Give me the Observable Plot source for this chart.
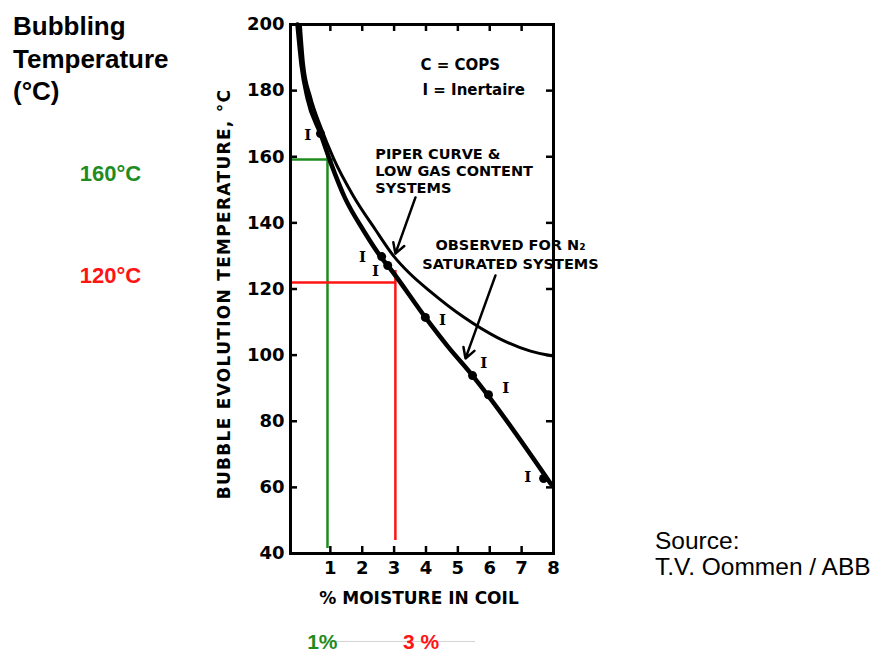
<!DOCTYPE html>
<html><head><meta charset="utf-8">
<script src="https://cdn.jsdelivr.net/npm/d3@7"></script>
<script src="https://cdn.jsdelivr.net/npm/@observablehq/plot@0.6"></script>
<style>
body{margin:0;background:#fff;}
#wrap{position:relative;width:873px;height:652px;overflow:hidden;background:#fff;}
#title{position:absolute;left:13px;top:10px;font:bold 26px "Liberation Sans",Arial,sans-serif;line-height:32.5px;color:#000;}
#source{position:absolute;left:655px;top:528px;font:24.5px "Liberation Sans",Arial,sans-serif;line-height:26px;color:#000;white-space:nowrap;}
#sep{position:absolute;left:330px;top:641px;width:145px;height:1px;background:#d4d4d4;}
#chart{position:absolute;left:0;top:0;}
</style></head><body>
<div id="wrap">
<div id="sep"></div>
<div id="title">Bubbling<br>Temperature<br>(°C)</div>
<div id="source">Source:<br>T.V. Oommen / ABB</div>
<div id="chart"></div>
</div>
<script>
// ---- data ----
const moistTicks = [1, 2, 3, 4, 5, 6, 7, 8];
const tempTicks = [40, 60, 80, 100, 120, 140, 160, 180, 200];
const innerTicksX = [1, 2, 3, 4, 5, 6, 7];
const innerTicksY = [60, 80, 100, 120, 140, 160, 180];

// Piper curve & low gas content systems
const piperX = [0.06, 0.16, 0.38, 0.70, 1.10, 1.73, 2.41, 3.00, 3.50, 4.14, 5.18, 6.24, 7.28, 7.94];
const piperT = [200, 188.0, 178.0, 169.0, 159.5, 148.0, 138.0, 129.8, 124.6, 119.2, 111.5, 105.3, 101.2, 99.8];

// Observed for N2 saturated systems
const obsX = [-0.03, 0.10, 0.29, 0.69, 1.02, 1.45, 2.04, 2.60, 2.85, 3.98, 4.67, 5.46, 5.96, 7.92];
const obsT = [200, 187.6, 177.6, 167.0, 158.0, 147.7, 137.7, 129.5, 126.5, 111.4, 102.8, 93.8, 87.6, 61.0];

// measured points (dots)
const dotX = [0.69, 2.61, 2.80, 3.98, 5.46, 5.96, 7.69];
const dotT = [167.0, 129.8, 127.1, 111.4, 93.8, 88.0, 62.7];

// "I" (Inertaire) markers
const inertX = [0.29, 2.01, 2.42, 4.52, 5.81, 6.50, 7.19];
const inertT = [166.4, 129.5, 125.3, 110.5, 97.5, 89.9, 63.0];

// legend lines
const legendText = ["C = COPS", "I = Inertaire"];
const legendX = [3.83, 3.89];
const legendT = [187.6, 180.0];

// annotations
const piperText = "PIPER CURVE &\nLOW GAS CONTENT\nSYSTEMS";
const piperTextX = 2.41, piperTextT = 155.9;
const obsText = "OBSERVED FOR N\u2082\nSATURATED SYSTEMS";
const obsTextX = 6.65, obsTextT = 130.9;

// leader arrows
const leadX1 = [3.67, 6.18], leadT1 = [147.7, 124.1];
const leadX2 = [3.04, 5.24], leadT2 = [130.7, 99.0];

// reading guides
const greenX = 0.91, greenT = 159.2, greenTop = 161.0, greenXEnd = 1.16;
const redX = 3.04, redT = 122.0, redTop = 125.6, redXEnd = 3.07;
const guideBottomG = 41.5, guideBottomR = 43.9;
const xDomain = [-0.25, 8];

const GREEN = "#1f8c1f", RED = "#ff1414";
const W = 553 - 290, H = 553 - 24;

const piper = piperX.map((x, i) => ({x, t: piperT[i]}));
const obs = obsX.map((x, i) => ({x, t: obsT[i]}));
const dots = dotX.map((x, i) => ({x, t: dotT[i]}));
const inert = inertX.map((x, i) => ({x, t: inertT[i]}));
const legend = legendText.map((s, i) => ({s, x: legendX[i], t: legendT[i]}));
const leads = leadX1.map((x1, i) => ({x1, y1: leadT1[i], x2: leadX2[i], y2: leadT2[i]}));

const FONT = "DejaVu Sans";
const chart = Plot.plot({
  width: 873, height: 652,
  marginLeft: 290, marginRight: 320, marginTop: 24, marginBottom: 99,
  style: {fontFamily: FONT, background: "transparent", color: "#000"},
  x: {domain: xDomain},
  y: {domain: [40, 200]},
  marks: [
    // guide lines
    Plot.ruleY([greenT], {x1: xDomain[0], x2: greenXEnd, stroke: GREEN, strokeWidth: 2.5}),
    Plot.ruleX([greenX], {y1: guideBottomG, y2: greenTop, stroke: GREEN, strokeWidth: 2.5}),
    Plot.ruleY([redT], {x1: xDomain[0], x2: redXEnd, stroke: RED, strokeWidth: 2.5}),
    Plot.ruleX([redX], {y1: guideBottomR, y2: redTop, stroke: RED, strokeWidth: 2.5}),
    // inward ticks
    Plot.ruleX(innerTicksX, {x: d => d, insetBottom: H - 7, strokeWidth: 2.5}),
    Plot.ruleX(innerTicksX, {x: d => d, insetTop: H - 7, strokeWidth: 2.5}),
    Plot.ruleY(innerTicksY, {y: d => d, insetRight: W - 7, strokeWidth: 2.5}),
    Plot.ruleY(innerTicksY, {y: d => d, insetLeft: W - 7, strokeWidth: 2.5}),
    Plot.frame({stroke: "#000", strokeWidth: 3}),
    // curves
    Plot.line(piper, {x: "x", y: "t", stroke: "#000", strokeWidth: 3, curve: "monotone-x"}),
    Plot.line(obs, {x: "x", y: "t", stroke: "#000", strokeWidth: 4.5, curve: "monotone-x"}),
    Plot.dot(dots, {x: "x", y: "t", r: 4.5, fill: "#000"}),
    Plot.text(inert, {x: "x", y: "t", text: () => "I", fontFamily: "DejaVu Serif", fontWeight: "bold", fontSize: 15, fill: "#000"}),
    // legend & annotations
    Plot.text(legend, {x: "x", y: "t", text: "s", textAnchor: "start", fontSize: 15, fontWeight: "bold", fill: "#000"}),
    Plot.text([piperText], {x: () => piperTextX, y: () => piperTextT, text: d => d, textAnchor: "start", lineHeight: 1.17, fontSize: 14.5, fontWeight: "bold", fill: "#000"}),
    Plot.text([obsText], {x: () => obsTextX, y: () => obsTextT, text: d => d, textAnchor: "middle", lineHeight: 1.31, fontSize: 14.5, fontWeight: "bold", fill: "#000"}),
    Plot.arrow(leads, {x1: "x1", y1: "y1", x2: "x2", y2: "y2", stroke: "#000", strokeWidth: 2.5, headLength: 7}),
    // axes
    Plot.axisY(tempTicks, {anchor: "left", tickSize: 0, tickPadding: 6, fontSize: 18, fontWeight: "bold", label: null}),
    Plot.axisX(moistTicks, {anchor: "bottom", tickSize: 0, tickPadding: 8, fontSize: 18, fontWeight: "bold", label: null}),
    Plot.text(["BUBBLE EVOLUTION TEMPERATURE, °C"], {frameAnchor: "left", textAnchor: "middle", lineAnchor: "middle", rotate: -90, dx: -66, dy: 5, fontSize: 17, fontWeight: "bold", fill: "#000", text: d => d}),
    Plot.text(["% MOISTURE IN COIL"], {frameAnchor: "bottom", textAnchor: "middle", lineAnchor: "middle", dx: -3, dy: 45, fontSize: 17, fontWeight: "bold", fill: "#000", text: d => d}),
    // coloured readings
    Plot.text([160], {y: d => d, frameAnchor: "left", textAnchor: "middle", dx: -180, dy: 17, text: () => "160°C", fill: GREEN, fontFamily: "Liberation Sans", fontWeight: "bold", fontSize: 22}),
    Plot.text([120], {y: d => d, frameAnchor: "left", textAnchor: "middle", dx: -180, dy: -13, text: () => "120°C", fill: RED, fontFamily: "Liberation Sans", fontWeight: "bold", fontSize: 22}),
    Plot.text([1], {x: d => d, frameAnchor: "bottom", textAnchor: "middle", lineAnchor: "middle", dx: -8, dy: 89, text: () => "1%", fill: GREEN, fontFamily: "Liberation Sans", fontWeight: "bold", fontSize: 21}),
    Plot.text([3], {x: d => d, frameAnchor: "bottom", textAnchor: "middle", lineAnchor: "middle", dx: 27, dy: 89, text: () => "3 %", fill: RED, fontFamily: "Liberation Sans", fontWeight: "bold", fontSize: 21})
  ]
});
d3.select(chart).selectAll("text").filter(function() { return this.textContent === "BUBBLE EVOLUTION TEMPERATURE, °C"; }).attr("letter-spacing", 1.3);
document.getElementById("chart").appendChild(chart);
</script>
</body></html>
